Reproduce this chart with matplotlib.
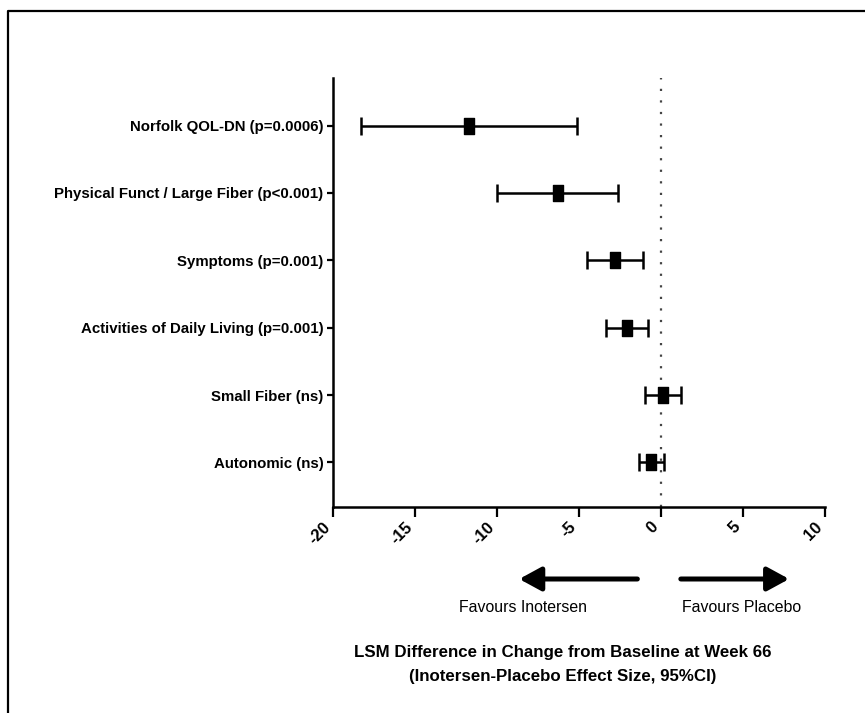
import numpy as np
import matplotlib
matplotlib.use("Agg")
import matplotlib.pyplot as plt
from matplotlib.lines import Line2D
from matplotlib.path import Path

# outcome labels, top to bottom
outcomes = ["Norfolk QOL-DN (p=0.0006)",
            "Physical Funct / Large Fiber (p<0.001)",
            "Symptoms (p=0.001)",
            "Activities of Daily Living (p=0.001)",
            "Small Fiber (ns)",
            "Autonomic (ns)"]
lsm_diff = [-11.7, -6.3, -2.8, -2.1, 0.1, -0.6]
ci_low = [-18.3, -10.0, -4.5, -3.35, -1.0, -1.35]
ci_high = [-5.1, -2.6, -1.1, -0.8, 1.2, 0.2]
xticks = [-20, -15, -10, -5, 0, 5, 10]

plt.rcParams['font.family'] = ["Liberation Sans", "DejaVu Sans"]

fig = plt.figure(figsize=(8.65, 7.13), dpi=100)
ax = fig.add_axes([0.385, 0.289, 0.569, 0.602])

y = np.arange(len(outcomes), 0, -1)
est = np.array(lsm_diff)
err = np.vstack([est - np.array(ci_low), np.array(ci_high) - est])

# tall rectangle marker like in the original
rect = Path([(-0.33, -0.5), (0.33, -0.5), (0.33, 0.5), (-0.33, 0.5), (-0.33, -0.5)],
            [Path.MOVETO, Path.LINETO, Path.LINETO, Path.LINETO, Path.CLOSEPOLY])

ax.axvline(0, color='#444444', lw=1.6, ls=(0, (1, 4.2)), zorder=1)
ax.errorbar(est, y, xerr=err, fmt='none', ecolor='black', elinewidth=1.8,
            capsize=6.5, capthick=1.8, zorder=2)
ax.plot(est, y, linestyle='none', marker=rect, markersize=11,
        color='black', zorder=3)

ax.set_xlim(-20, 10)
ax.set_ylim(0.34, 6.71)
ax.set_xticks(xticks)
ax.set_xticklabels([str(t) for t in xticks], rotation=45, ha='right',
                   fontsize=12, fontweight='bold')
ax.set_yticks(y)
ax.set_yticklabels(outcomes, fontsize=10.8, fontweight='bold')
ax.tick_params(axis='x', length=7, width=1.6, pad=2)
ax.tick_params(axis='y', length=4, width=1.6, pad=3)
for s in ['top', 'right']:
    ax.spines[s].set_visible(False)
for s in ['left', 'bottom']:
    ax.spines[s].set_linewidth(1.8)

# direction arrows below the axis
arrow_y = 1 - 579 / 713
left_arrow = (-1.45, -8.65)
right_arrow = (1.2, 7.8)
for x0, x1 in [left_arrow, right_arrow]:
    ax.annotate('', xy=(x1, arrow_y), xytext=(x0, arrow_y),
                xycoords=('data', 'figure fraction'),
                textcoords=('data', 'figure fraction'),
                arrowprops=dict(arrowstyle='-|>,head_length=0.55,head_width=0.3',
                                lw=3.6, color='black',
                                mutation_scale=24, shrinkA=0, shrinkB=0))

fig.text(0.6046, 1 - 607 / 713, "Favours Inotersen", ha='center', va='center',
         fontsize=11.4)
fig.text(0.8575, 1 - 607 / 713, "Favours Placebo", ha='center', va='center',
         fontsize=11.4)
fig.text(0.650, 1 - 664 / 713,
         "LSM Difference in Change from Baseline at Week 66\n(Inotersen-Placebo Effect Size, 95%CI)",
         ha='center', va='center', fontsize=12.2, fontweight='bold', linespacing=1.75)

# outer frame (cropped at right and bottom)
fig.add_artist(Line2D([8 / 865, 8 / 865, 1.0], [0.0, 1 - 11 / 713, 1 - 11 / 713],
                      transform=fig.transFigure, color='black', lw=1.6))

fig.savefig("out.png", dpi=100)
